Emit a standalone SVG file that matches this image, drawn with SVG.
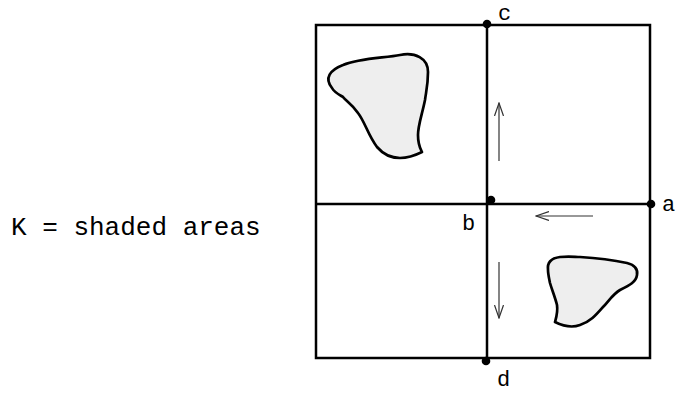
<svg xmlns="http://www.w3.org/2000/svg" width="678" height="394" viewBox="0 0 678 394">
<style>
.frame{fill:none;stroke:#000;stroke-width:2.5}
.blob{fill:#eeeeee;stroke:#000;stroke-width:2.7;stroke-linejoin:round}
.arr{fill:none;stroke:#333;stroke-width:1.2;marker-end:url(#ah)}
.lbl{font-family:"Liberation Mono","Courier New",monospace;font-size:26px;fill:#000}
.pt{font-family:"Liberation Mono","Courier New",monospace;font-size:22px;fill:#000}
.dot{fill:#000}
</style>
<defs>
<marker id="ah" viewBox="0 0 14 10" refX="13" refY="5" markerWidth="14" markerHeight="10" markerUnits="userSpaceOnUse" orient="auto">
<path d="M0,0.5 L13,5 L0,9.5" fill="none" stroke="#333" stroke-width="1.2"/>
</marker>
</defs>
<text class="lbl" x="11" y="235">K = shaded areas</text>
<g id="frame">
<rect class="frame" x="316" y="25" width="334" height="333"/>
<line class="frame" x1="487" y1="25" x2="487" y2="358"/>
<line class="frame" x1="316" y1="204" x2="650" y2="204"/>
</g>
<g id="blob1">
<path class="blob" d="M332,88 C324,78 330,70 343,65 C360,58 385,58 400,55 C415,52 428,58 428,72 C428,85 426,92 425,100 C422,115 418,125 418,135 C418,145 420,148 422,152 C414,156 408,158 400,158 C390,158 383,154 377,147 C368,135 365,122 358,113 C352,104 346,101 343,97 C338,94 334,92 332,88 Z"/>
</g>
<g id="blob2">
<path class="blob" d="M548,270 C547,262 552,258 560,257 C570,256 575,257 580,257 C597,258 613,260 627,263 C635,265 638,269 637,275 C636,282 630,285 620,290 C613,294 608,302 603,307 C596,315 590,322 580,325 C572,328 563,326 555,322 C557,315 558,312 557,305 C555,297 552,290 550,283 C549,278 548,274 548,270 Z"/>
</g>
<g id="connectors">
<line class="arr" x1="499" y1="161" x2="499" y2="103"/>
<line class="arr" x1="593" y1="216" x2="536" y2="216"/>
<line class="arr" x1="499" y1="262" x2="499" y2="318"/>
</g>
<g id="c"><circle class="dot" cx="487" cy="24" r="4.3"/><text class="pt" x="498" y="20">c</text></g>
<g id="a"><circle class="dot" cx="651" cy="204" r="4.3"/><text class="pt" x="662" y="211">a</text></g>
<g id="b"><circle class="dot" cx="491" cy="200" r="4.3"/><text class="pt" x="462" y="230">b</text></g>
<g id="d"><circle class="dot" cx="486" cy="361" r="4.3"/><text class="pt" x="497" y="386">d</text></g>
</svg>
